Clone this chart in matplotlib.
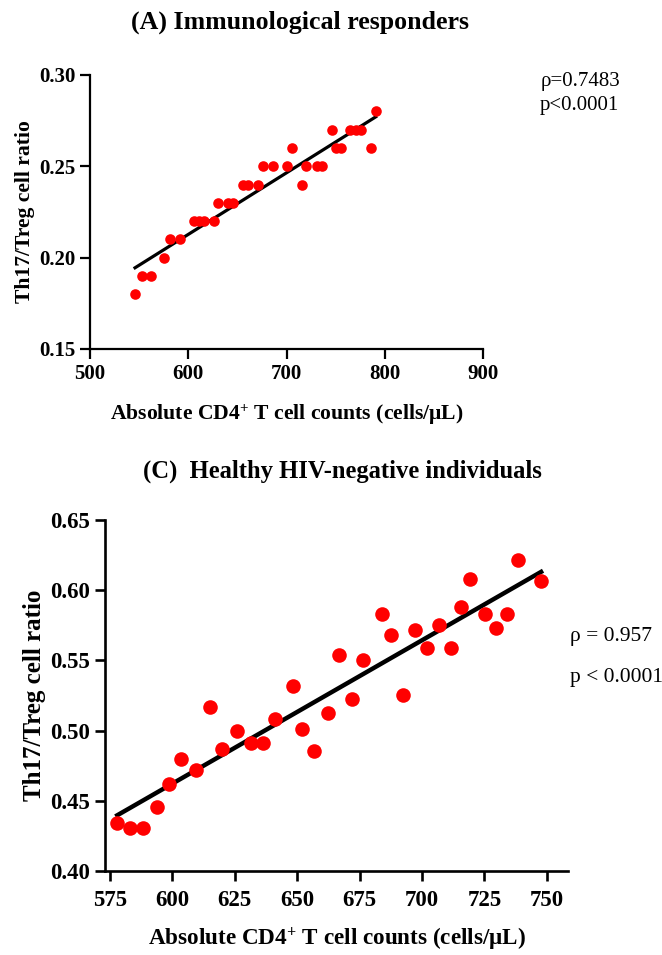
import numpy as np
import matplotlib
matplotlib.use("Agg")
import matplotlib.pyplot as plt

plt.rcParams['font.family'] = ['Liberation Serif', 'DejaVu Serif']
plt.rcParams['mathtext.fontset'] = 'custom'
plt.rcParams['mathtext.rm'] = 'Liberation Serif'
plt.rcParams['mathtext.bf'] = 'Liberation Serif:bold'
plt.rcParams['mathtext.it'] = 'Liberation Serif:italic'

# Panel A: Immunological responders
a_cd4 = [545.8, 552.5, 561.7, 575, 581, 591.5, 606, 611, 616, 626, 630.5, 640.7,
         645.8, 656, 661, 671, 676, 685.8, 700.7, 705.8, 716, 720, 730.5, 735.6,
         745.8, 750, 755, 765, 770.5, 775.6, 785.8, 790.8]
a_ratio = [0.18, 0.19, 0.19, 0.20, 0.21, 0.21, 0.22, 0.22, 0.22, 0.22, 0.23, 0.23,
           0.23, 0.24, 0.24, 0.24, 0.25, 0.25, 0.25, 0.26, 0.24, 0.25, 0.25, 0.25,
           0.27, 0.26, 0.26, 0.27, 0.27, 0.27, 0.26, 0.28]
a_xticks = [500, 600, 700, 800, 900]
a_yticks = [0.15, 0.20, 0.25, 0.30]

# Panel C: Healthy HIV-negative individuals
c_cd4 = [577.9, 583.0, 588.3, 594.0, 598.7, 603.5, 609.6, 614.9, 619.8, 625.8,
         631.5, 636.2, 641.1, 648.5, 651.9, 656.9, 662.2, 666.8, 671.8, 676.5,
         683.8, 687.4, 692.3, 697.1, 701.9, 706.7, 711.6, 715.5, 719.3, 725.3,
         729.8, 734.2, 738.6, 747.7]
c_ratio = [0.4345, 0.4305, 0.4305, 0.4457, 0.4619, 0.4798, 0.4719, 0.5167, 0.4869,
           0.4995, 0.4912, 0.4912, 0.5079, 0.5321, 0.5012, 0.4857, 0.5125, 0.5540,
           0.5226, 0.5500, 0.5829, 0.5679, 0.5255, 0.5719, 0.5588, 0.5752, 0.5588,
           0.5881, 0.6079, 0.5833, 0.5733, 0.5833, 0.6214, 0.6067]
c_xticks = [575, 600, 625, 650, 675, 700, 725, 750]
c_yticks = [0.40, 0.45, 0.50, 0.55, 0.60, 0.65]

xlabel = r'Absolute CD4$^{\mathbf{+}}$ T cell counts (cells/μL)'
ylabel = 'Th17/Treg cell ratio'

fig = plt.figure(figsize=(6.62, 9.55), dpi=100)

def style(ax, lw, ticksize, xpad):
    for s in ['top', 'right']:
        ax.spines[s].set_visible(False)
    for s in ['left', 'bottom']:
        ax.spines[s].set_linewidth(lw)
    ax.tick_params(width=lw, length=7, labelsize=ticksize, direction='out')
    ax.tick_params(axis='x', pad=xpad)
    for lab in ax.get_xticklabels() + ax.get_yticklabels():
        lab.set_fontweight('bold')

# Panel A
ax1 = fig.add_axes([0.136, 0.6346, 0.5937, 0.2869])
ax1.scatter(a_cd4, a_ratio, s=58, color='#ff0000', zorder=3, linewidths=0)
k, b = np.polyfit(a_cd4, a_ratio, 1)
xs = np.array([min(a_cd4), max(a_cd4)])
ax1.plot(xs, k * xs + b, color='black', lw=2.3, zorder=2)
ax1.set_xlim(500, 900)
ax1.set_ylim(0.15, 0.30)
ax1.set_xticks(a_xticks)
ax1.set_yticks(a_yticks)
ax1.set_yticklabels([f'{v:.2f}' for v in a_yticks])
style(ax1, 1.6, 15, 4)
ax1.set_xlabel(xlabel, fontsize=15.6, fontweight='bold', labelpad=13)
ax1.set_ylabel(ylabel, fontsize=15.6, fontweight='bold', labelpad=3)
fig.text(0.453, 0.977, '(A) Immunological responders', fontsize=18.6,
         fontweight='bold', ha='center', va='center')
fig.text(0.816, 0.915, 'ρ=0.7483', fontsize=15, ha='left', va='center')
fig.text(0.816, 0.890, 'p<0.0001', fontsize=15, ha='left', va='center')

# Panel C
ax2 = fig.add_axes([0.1586, 0.0880, 0.6999, 0.3675])
ax2.scatter(c_cd4, c_ratio, s=110, color='#ff0000', zorder=3, linewidths=0)
k2, b2 = np.polyfit(c_cd4, c_ratio, 1)
xs2 = np.array([min(c_cd4), max(c_cd4)])
ax2.plot(xs2, k2 * xs2 + b2, color='black', lw=3.2, zorder=2)
ax2.set_xlim(573.0, 758.6)
ax2.set_ylim(0.40, 0.65)
ax2.set_xticks(c_xticks)
ax2.set_yticks(c_yticks)
ax2.set_yticklabels([f'{v:.2f}' for v in c_yticks])
style(ax2, 1.9, 16.5, 7)
ax2.set_xlabel(xlabel, fontsize=16.7, fontweight='bold', labelpad=10)
ax2.set_ylabel(ylabel, fontsize=18, fontweight='bold', labelpad=3)
fig.text(0.517, 0.506, '(C)  Healthy HIV-negative individuals', fontsize=17.7,
         fontweight='bold', ha='center', va='center')
fig.text(0.861, 0.333, 'ρ = 0.957', fontsize=15.5, ha='left', va='center')
fig.text(0.861, 0.291, 'p < 0.0001', fontsize=15.5, ha='left', va='center')

fig.savefig('out.png', dpi=100)
